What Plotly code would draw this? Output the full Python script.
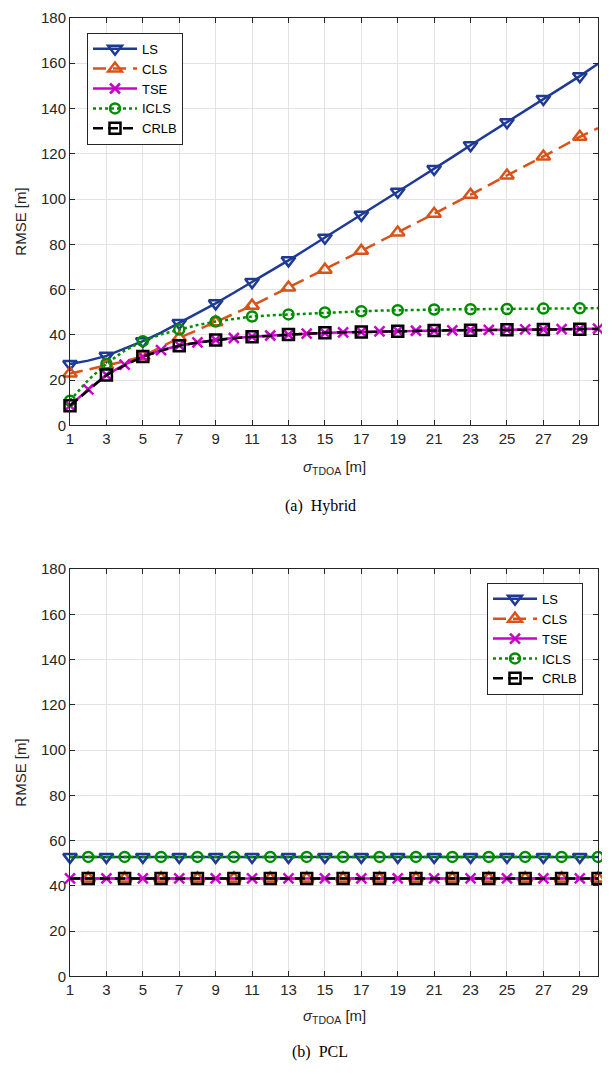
import plotly.graph_objects as go

# ---------------- data ----------------
sigma_tdoa = [1, 2, 3, 4, 5, 6, 7, 8, 9, 10, 11, 12, 13, 14, 15,
              16, 17, 18, 19, 20, 21, 22, 23, 24, 25, 26, 27, 28, 29, 30]
x_ticks = [1, 3, 5, 7, 9, 11, 13, 15, 17, 19, 21, 23, 25, 27, 29]
y_ticks = [0, 20, 40, 60, 80, 100, 120, 140, 160, 180]

# (a) Hybrid
ls_hybrid = [27.1, 28.6, 30.7, 33.8, 37.2, 41.0, 45.2, 49.4, 53.9, 58.6,
             63.3, 68.1, 72.9, 77.9, 82.9, 88.0, 93.0, 98.1, 103.2, 108.3,
             113.3, 118.5, 123.8, 128.9, 133.9, 139.0, 144.2, 149.2, 154.3, 159.8]
cls_hybrid = [22.9, 24.7, 26.5, 28.3, 30.5, 34.5, 38.7, 42.1, 45.6, 49.2,
              52.9, 56.9, 60.9, 64.8, 68.8, 73.0, 77.1, 81.2, 85.2, 89.4,
              93.5, 97.7, 101.9, 106.2, 110.4, 114.6, 118.8, 123.1, 127.5, 131.3]
tse_hybrid = [8.7, 15.9, 22.3, 26.8, 30.4, 33.2, 35.3, 36.7, 37.8, 38.6,
              39.2, 39.7, 40.1, 40.5, 40.9, 41.1, 41.3, 41.5, 41.7, 41.8,
              41.9, 42.0, 42.1, 42.2, 42.3, 42.4, 42.4, 42.5, 42.6, 42.7]
icls_hybrid = [10.9, 20.0, 27.2, 33.0, 37.2, 40.2, 42.3, 44.3, 45.9, 47.1,
               48.1, 48.6, 49.0, 49.5, 49.9, 50.2, 50.4, 50.7, 50.9, 51.0,
               51.2, 51.25, 51.3, 51.35, 51.4, 51.5, 51.6, 51.65, 51.7, 51.8]
crlb_hybrid = [8.7, 15.6, 22.2, 26.5, 30.4, 33.0, 35.2, 36.6, 37.7, 38.5,
               39.1, 39.6, 40.1, 40.5, 40.9, 41.1, 41.3, 41.5, 41.6, 41.8,
               41.9, 42.0, 42.0, 42.1, 42.2, 42.3, 42.3, 42.4, 42.5, 42.6]

# (b) PCL
ls_pcl = [52.8, 52.8, 52.8, 52.8, 52.8, 52.8, 52.8, 52.8, 52.8, 52.8,
          52.8, 52.8, 52.8, 52.8, 52.8, 52.8, 52.8, 52.8, 52.8, 52.8,
          52.8, 52.8, 52.8, 52.8, 52.8, 52.8, 52.8, 52.8, 52.8, 52.8]
cls_pcl = [43.3, 43.3, 43.3, 43.3, 43.3, 43.3, 43.3, 43.3, 43.3, 43.3,
           43.3, 43.3, 43.3, 43.3, 43.3, 43.3, 43.3, 43.3, 43.3, 43.3,
           43.3, 43.3, 43.3, 43.3, 43.3, 43.3, 43.3, 43.3, 43.3, 43.3]
tse_pcl = [43.3, 43.3, 43.3, 43.3, 43.3, 43.3, 43.3, 43.3, 43.3, 43.3,
           43.3, 43.3, 43.3, 43.3, 43.3, 43.3, 43.3, 43.3, 43.3, 43.3,
           43.3, 43.3, 43.3, 43.3, 43.3, 43.3, 43.3, 43.3, 43.3, 43.3]
icls_pcl = [52.8, 52.8, 52.8, 52.8, 52.8, 52.8, 52.8, 52.8, 52.8, 52.8,
            52.8, 52.8, 52.8, 52.8, 52.8, 52.8, 52.8, 52.8, 52.8, 52.8,
            52.8, 52.8, 52.8, 52.8, 52.8, 52.8, 52.8, 52.8, 52.8, 52.8]
crlb_pcl = [43.3, 43.3, 43.3, 43.3, 43.3, 43.3, 43.3, 43.3, 43.3, 43.3,
            43.3, 43.3, 43.3, 43.3, 43.3, 43.3, 43.3, 43.3, 43.3, 43.3,
            43.3, 43.3, 43.3, 43.3, 43.3, 43.3, 43.3, 43.3, 43.3, 43.3]

series_names = ["LS", "CLS", "TSE", "ICLS", "CRLB"]

# ---------------- styles ----------------
AX = "#262626"
styles = {
    "LS":   dict(color="#1F3A96", dash="solid", symbol="triangle-down-open", size=12),
    "CLS":  dict(color="#D95319", dash="13px,7px", symbol="triangle-up-open", size=12),
    "TSE":  dict(color="#CC00CC", dash="solid", symbol="x-thin-open", size=10),
    "ICLS": dict(color="#008C00", dash="dot", symbol="circle-open", size=10),
    "CRLB": dict(color="#000000", dash="10px,5px", symbol="square-open", size=11),
}
LW = 2.5
MLW = 2.5

# marker index: (start, step) for each panel
marks_a = {"LS": (0, 2), "CLS": (0, 2), "TSE": (0, 1), "ICLS": (0, 2), "CRLB": (0, 2)}
marks_b = {"LS": (0, 2), "CLS": (1, 2), "TSE": (0, 2), "ICLS": (1, 2), "CRLB": (1, 2)}

panels = [
    ("x", "y", "legend", marks_a,
     {"LS": ls_hybrid, "CLS": cls_hybrid, "TSE": tse_hybrid, "ICLS": icls_hybrid, "CRLB": crlb_hybrid}),
    ("x2", "y2", "legend2", marks_b,
     {"LS": ls_pcl, "CLS": cls_pcl, "TSE": tse_pcl, "ICLS": icls_pcl, "CRLB": crlb_pcl}),
]

fig = go.Figure()
for xa, ya, leg, marks, data in panels:
    for name in series_names:
        st = styles[name]
        vals = data[name]
        fig.add_trace(go.Scatter(
            x=sigma_tdoa, y=vals, mode="lines", xaxis=xa, yaxis=ya,
            line=dict(color=st["color"], width=LW, dash=st["dash"]),
            showlegend=False, hoverinfo="skip", cliponaxis=False))
        s0, step = marks[name]
        fig.add_trace(go.Scatter(
            x=sigma_tdoa[s0::step], y=vals[s0::step], mode="markers",
            xaxis=xa, yaxis=ya,
            marker=dict(symbol=st["symbol"], size=st["size"], color=st["color"],
                        line=dict(color=st["color"], width=MLW)),
            showlegend=False, cliponaxis=False))
        # legend entry
        fig.add_trace(go.Scatter(
            x=[None], y=[None], mode="lines+markers", name=name,
            xaxis=xa, yaxis=ya, legend=leg,
            line=dict(color=st["color"], width=LW, dash=st["dash"]),
            marker=dict(symbol=st["symbol"], size=st["size"], color=st["color"],
                        line=dict(color=st["color"], width=MLW))))

FONT = "Liberation Sans, Arial, sans-serif"
axis_common = dict(
    showline=True, linecolor=AX, linewidth=1, mirror="ticks",
    ticks="inside", ticklen=5, tickcolor=AX, tickwidth=1,
    showgrid=True, gridcolor="#E3E3E3", gridwidth=1, zeroline=False,
    tickfont=dict(family=FONT, size=15, color=AX),
)

# the page body has an 8px margin: the figure is sized to fit the window
OFF = 8
W, H = 610 - 2 * OFF, 1077 - 2 * OFF
PL, PR = 70, 598                      # plot area, page pixels
top_a, bot_a = 9, 423
top_b, bot_b = 569, 983
PW = PR - PL


def py(page_y):
    return 1 - (page_y - OFF) / H


def px(page_x):
    return (page_x - PL) / PW


fig.update_layout(
    width=W, height=H,
    margin=dict(l=PL - OFF, r=W + OFF - PR, t=0, b=0),
    paper_bgcolor="white", plot_bgcolor="white",
    font=dict(family=FONT, color=AX),
    xaxis=dict(domain=[0, 1], anchor="y", range=[1, 30], tickvals=x_ticks, **axis_common),
    yaxis=dict(domain=[py(bot_a), py(top_a)], anchor="x", range=[0, 180],
               tickvals=y_ticks, **axis_common),
    xaxis2=dict(domain=[0, 1], anchor="y2", range=[1, 30], tickvals=x_ticks, **axis_common),
    yaxis2=dict(domain=[py(bot_b), py(top_b)], anchor="x2", range=[0, 180],
                tickvals=y_ticks, **axis_common),
    legend=dict(x=px(87), y=py(24), xanchor="left", yanchor="top",
                bordercolor=AX, borderwidth=1, bgcolor="white",
                font=dict(family=FONT, size=13, color="#000000"),
                tracegroupgap=0, itemwidth=44),
    legend2=dict(x=px(583), y=py(583), xanchor="right", yanchor="top",
                 bordercolor=AX, borderwidth=1, bgcolor="white",
                 font=dict(family=FONT, size=13, color="#000000"),
                 tracegroupgap=0, itemwidth=44),
    showlegend=True,
)

xlabel = "<i>σ</i><sub>TDOA</sub> [m]"
ann = []
for top, bot, cap, xt_y, cap_y in [(top_a, bot_a, "(a)  Hybrid", 466, 505),
                                    (top_b, bot_b, "(b)  PCL", 1024, 1060)]:
    ann.append(dict(text=xlabel, x=px(334), y=py(xt_y), xref="paper", yref="paper",
                    xanchor="center", yanchor="middle", showarrow=False,
                    font=dict(family=FONT, size=15, color=AX)))
    ann.append(dict(text=cap, x=px(320), y=py(cap_y), xref="paper", yref="paper",
                    xanchor="center", yanchor="middle", showarrow=False,
                    font=dict(family="Liberation Serif, Times New Roman, serif", size=16,
                              color="#000000")))
    ann.append(dict(text="RMSE [m]", x=px(21), y=py((top + bot) / 2),
                    xref="paper", yref="paper", xanchor="center", yanchor="middle",
                    textangle=-90, showarrow=False,
                    font=dict(family=FONT, size=15, color=AX)))
fig.update_layout(annotations=ann)

fig.write_html("out.html", config={"displayModeBar": False})
